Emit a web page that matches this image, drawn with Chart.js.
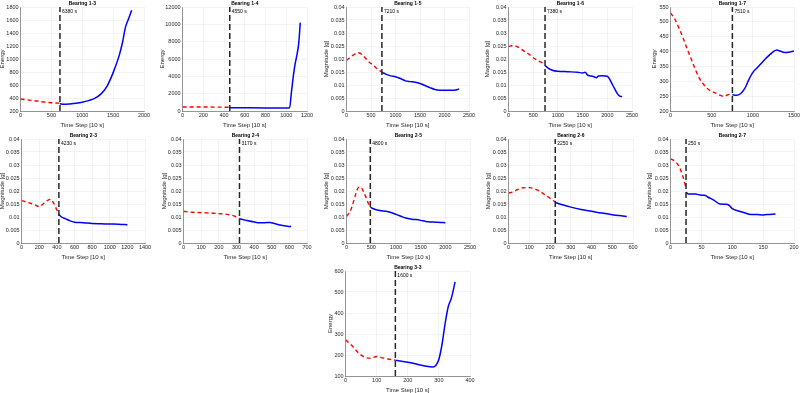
<!DOCTYPE html>
<html>
<head>
<meta charset="utf-8">
<script src="https://cdn.jsdelivr.net/npm/chart.js@4.4.1/dist/chart.umd.min.js"></script>
<style>
    html, body { margin: 0; padding: 0; background: #fff; }
    #fig { position: relative; width: 800px; height: 393px; overflow: hidden; }
    #fig canvas { position: absolute; }
</style>
</head>
<body>
<div id="fig"></div>
<script>
// ---- data (time step [10 s], red = before onset, blue = after onset) ----
var b13PreX  = [0, 100, 200, 300, 400, 500, 600, 638];
var b13PreY  = [385, 372, 360, 348, 336, 327, 321, 319];
var b13PostX = [638, 700, 800, 900, 1000, 1100, 1200, 1300, 1400, 1500, 1600, 1650, 1700, 1750, 1800];
var b13PostY = [310, 302, 308, 318, 335, 360, 395, 460, 580, 790, 1060, 1250, 1490, 1620, 1750];

var b14PreX  = [0, 100, 200, 300, 400, 455];
var b14PreY  = [470, 465, 460, 450, 440, 430];
var b14PostX = [455, 600, 800, 1000, 1032, 1050, 1070, 1085, 1100, 1120, 1135];
var b14PostY = [370, 365, 360, 360, 380, 2200, 4200, 5400, 6300, 7800, 10200];

var b15PreX  = [0, 100, 200, 250, 350, 450, 550, 650, 721];
var b15PreY  = [0.0195, 0.0210, 0.0222, 0.0224, 0.0210, 0.0190, 0.0175, 0.0158, 0.0150];
var b15PostX = [721, 800, 900, 1000, 1100, 1200, 1300, 1400, 1500, 1600, 1700, 1800, 1900, 2000, 2100, 2200, 2300];
var b15PostY = [0.0148, 0.0142, 0.0135, 0.0132, 0.0125, 0.0116, 0.0113, 0.0111, 0.0106, 0.0098, 0.0090, 0.0083, 0.0080, 0.0080, 0.0080, 0.0080, 0.0085];

var b16PreX  = [0, 100, 200, 300, 400, 500, 600, 738];
var b16PreY  = [0.0248, 0.0252, 0.0245, 0.0232, 0.0220, 0.0205, 0.0193, 0.0180];
var b16PostX = [738, 800, 900, 1000, 1200, 1400, 1500, 1550, 1600, 1650, 1700, 1780, 1820, 1900, 2000, 2050, 2100, 2150, 2200, 2250, 2300];
var b16PostY = [0.0175, 0.0165, 0.0156, 0.0153, 0.0151, 0.0149, 0.0146, 0.0149, 0.0138, 0.0135, 0.0134, 0.0128, 0.0135, 0.0136, 0.0134, 0.0122, 0.0103, 0.0085, 0.0068, 0.0057, 0.0055];

var b17PreX  = [0, 50, 100, 150, 200, 250, 300, 350, 400, 450, 500, 550, 600, 650, 700, 751];
var b17PreY  = [530, 510, 480, 447, 410, 375, 340, 310, 290, 275, 266, 260, 253, 249, 255, 258];
var b17PostX = [751, 800, 850, 900, 950, 1000, 1050, 1100, 1150, 1200, 1250, 1290, 1330, 1370, 1420, 1460, 1500];
var b17PostY = [255, 253, 258, 275, 305, 330, 345, 360, 375, 388, 400, 405, 402, 398, 397, 399, 402];

var b23PreX  = [0, 50, 100, 150, 200, 250, 300, 330, 360, 400, 423];
var b23PreY  = [0.0163, 0.0158, 0.0153, 0.0147, 0.0140, 0.0152, 0.0165, 0.0168, 0.0155, 0.0127, 0.0112];
var b23PostX = [423, 450, 500, 550, 600, 700, 800, 900, 1000, 1100, 1200];
var b23PostY = [0.0110, 0.0101, 0.0093, 0.0085, 0.0080, 0.0078, 0.0075, 0.0074, 0.0073, 0.0072, 0.0070];

var b24PreX  = [0, 50, 100, 150, 200, 250, 290, 317];
var b24PreY  = [0.0122, 0.0118, 0.0117, 0.0115, 0.0113, 0.0110, 0.0103, 0.0094];
var b24PostX = [317, 350, 400, 430, 460, 490, 510, 540, 570, 610];
var b24PostY = [0.0093, 0.0088, 0.0081, 0.0078, 0.0078, 0.0079, 0.0076, 0.0070, 0.0066, 0.0063];

var b25PreX  = [0, 50, 100, 150, 200, 250, 300, 350, 400, 450, 480];
var b25PreY  = [0.0103, 0.0115, 0.0135, 0.0165, 0.0198, 0.0215, 0.0212, 0.0195, 0.0172, 0.0148, 0.0140];
var b25PostX = [480, 600, 700, 800, 900, 1000, 1100, 1200, 1300, 1400, 1500, 1600, 1700, 1800, 1900, 2000];
var b25PostY = [0.0137, 0.0128, 0.0124, 0.0122, 0.0117, 0.0110, 0.0103, 0.0096, 0.0092, 0.0090, 0.0087, 0.0083, 0.0081, 0.0080, 0.0079, 0.0078];

var b26PreX  = [0, 20, 40, 60, 80, 100, 120, 140, 160, 180, 200, 225];
var b26PreY  = [0.0192, 0.0196, 0.0204, 0.0211, 0.0213, 0.0213, 0.0210, 0.0203, 0.0194, 0.0183, 0.0172, 0.0158];
var b26PostX = [225, 250, 300, 350, 400, 450, 500, 550, 570];
var b26PostY = [0.0156, 0.0149, 0.0138, 0.0129, 0.0122, 0.0115, 0.0109, 0.0104, 0.0102];

var b27PreX  = [0, 5, 10, 15, 20, 25];
var b27PreY  = [0.0323, 0.0318, 0.0307, 0.0288, 0.0255, 0.0212];
var b27PostX = [25, 30, 40, 50, 55, 60, 70, 80, 90, 95, 100, 110, 120, 130, 140, 150, 160, 170];
var b27PostY = [0.0195, 0.0188, 0.0188, 0.0184, 0.0184, 0.0177, 0.0165, 0.0150, 0.0149, 0.0145, 0.0132, 0.0123, 0.0116, 0.0110, 0.0110, 0.0108, 0.0110, 0.0112];

var b33PreX  = [0, 20, 40, 60, 80, 100, 120, 140, 160];
var b33PreY  = [272, 245, 212, 190, 185, 193, 186, 180, 175];
var b33PostX = [160, 180, 200, 220, 240, 260, 280, 290, 300, 310, 320, 330, 340, 352];
var b33PostY = [175, 170, 166, 160, 152, 146, 143, 150, 180, 250, 350, 430, 470, 548];

// onset step and its label
var onsetSteps  = [638, 455, 721, 738, 751, 423, 317, 480, 225, 25, 160];
var onsetLabels = ['6380 s', '4550 s', '7210 s', '7380 s', '7510 s', '4230 s', '3170 s', '4800 s', '2250 s', '250 s', '1600 s'];
var titles = ['Bearing 1-3', 'Bearing 1-4', 'Bearing 1-5', 'Bearing 1-6', 'Bearing 1-7',
              'Bearing 2-3', 'Bearing 2-4', 'Bearing 2-5', 'Bearing 2-6', 'Bearing 2-7', 'Bearing 3-3'];

// axis ranges [min, max, step]
var xRanges = [[0, 2000, 500], [0, 1200, 200], [0, 2500, 500], [0, 2500, 500], [0, 1500, 500],
               [0, 1400, 200], [0, 700, 100], [0, 2500, 500], [0, 600, 100], [0, 200, 50], [0, 400, 100]];
var yRanges = [[200, 1800, 200], [0, 12000, 2000], [0, 0.04, 0.005], [0, 0.04, 0.005], [200, 550, 50],
               [0, 0.04, 0.005], [0, 0.04, 0.005], [0, 0.04, 0.005], [0, 0.04, 0.005], [0, 0.04, 0.005], [100, 600, 100]];

var series = [
    [b13PreX, b13PreY, b13PostX, b13PostY], [b14PreX, b14PreY, b14PostX, b14PostY],
    [b15PreX, b15PreY, b15PostX, b15PostY], [b16PreX, b16PreY, b16PostX, b16PostY],
    [b17PreX, b17PreY, b17PostX, b17PostY], [b23PreX, b23PreY, b23PostX, b23PostY],
    [b24PreX, b24PreY, b24PostX, b24PostY], [b25PreX, b25PreY, b25PostX, b25PostY],
    [b26PreX, b26PreY, b26PostX, b26PostY], [b27PreX, b27PreY, b27PostX, b27PostY],
    [b33PreX, b33PreY, b33PostX, b33PostY]
];

// plot-area boxes on the page: left, top, width, height, y-title distance
var boxes = [
    [21, 7, 123, 104, 18], [183, 7, 124, 104, 20], [347, 7, 122, 104, 20], [509, 7, 123, 104, 21], [671, 7, 123, 104, 16],
    [22, 139, 123, 104, 19], [184, 139, 123, 104, 19], [347, 139, 123, 104, 20], [509, 139, 124, 104, 20], [671, 139, 123, 104, 21],
    [346, 271, 124, 105, 15]
];

var FONT = '"Liberation Sans", Arial, Helvetica, sans-serif';
Chart.defaults.font.family = FONT;
Chart.defaults.color = '#262626';

var panelText = {
    id: 'panelText',
    afterDraw: function (chart) {
        var o = chart.options.plugins.panelText;
        var ctx = chart.ctx, a = chart.chartArea;
        ctx.save();
        ctx.fillStyle = '#000';
        ctx.textBaseline = 'middle';
        ctx.textAlign = 'center';
        ctx.font = 'bold 5px ' + FONT;
        ctx.fillText(o.title, (a.left + a.right) / 2, a.top - 3.5);
        ctx.font = '5px ' + FONT;
        ctx.textAlign = 'left';
        var x = chart.scales.x.getPixelForValue(o.onset);
        ctx.fillText(o.label, x + 2, a.top + 5);
        ctx.restore();
    }
};

function pts(xs, ys) {
    return xs.map(function (x, i) { return { x: x, y: ys[i] }; });
}

function fmt(v) {
    return String(+v.toFixed(4));
}

var fig = document.getElementById('fig');
var PAD_TOP = 8, PAD_RIGHT = 9, X_H = 18;

titles.forEach(function (title, i) {
    var b = boxes[i];
    var yW = b[4] + 3.6;
    var canvas = document.createElement('canvas');
    var cw = Math.round(yW + b[2] + PAD_RIGHT);
    var ch = PAD_TOP + b[3] + X_H;
    canvas.width = cw;
    canvas.height = ch;
    canvas.style.left = (b[0] - yW) + 'px';
    canvas.style.top = (b[1] - PAD_TOP) + 'px';
    fig.appendChild(canvas);

    var s = series[i], xr = xRanges[i], yr = yRanges[i];
    var isEnergy = yr[1] > 1;

    new Chart(canvas.getContext('2d'), {
        type: 'line',
        data: {
            datasets: [{
                data: [{ x: onsetSteps[i], y: yr[0] }, { x: onsetSteps[i], y: yr[1] }],
                borderColor: '#262626',
                borderWidth: 1.5,
                borderDash: [6, 3],
                pointRadius: 0,
                order: 0
            }, {
                data: pts(s[0], s[1]),
                borderColor: '#ff0000',
                borderWidth: 1.4,
                borderDash: [4, 3],
                pointRadius: 0,
                cubicInterpolationMode: 'monotone',
                order: 2
            }, {
                data: pts(s[2], s[3]),
                borderColor: '#0000ff',
                borderWidth: 1.5,
                pointRadius: 0,
                cubicInterpolationMode: 'monotone',
                order: 1
            }]
        },
        options: {
            responsive: false,
            animation: false,
            events: [],
            layout: { padding: { top: PAD_TOP, right: PAD_RIGHT, left: 0, bottom: 0 } },
            plugins: {
                legend: { display: false },
                tooltip: { enabled: false },
                panelText: { title: title, onset: onsetSteps[i], label: onsetLabels[i] }
            },
            scales: {
                x: {
                    type: 'linear',
                    min: xr[0], max: xr[1],
                    afterFit: function (sc) { sc.height = X_H; },
                    ticks: { stepSize: xr[2], autoSkip: false, maxRotation: 0, padding: 1,
                             font: { size: 5.5 }, callback: fmt },
                    grid: { color: '#ebebeb', lineWidth: 0.6, drawTicks: false },
                    border: { color: '#555', width: 0.6 },
                    title: { display: true, text: 'Time Step [10 s]', font: { size: 6 }, padding: 0 }
                },
                y: {
                    min: yr[0], max: yr[1],
                    afterFit: function (sc) { sc.width = yW; },
                    ticks: { stepSize: yr[2], autoSkip: false, padding: 2,
                             font: { size: 5.5 }, callback: fmt },
                    grid: { color: '#ebebeb', lineWidth: 0.6, drawTicks: false },
                    border: { color: '#555', width: 0.6 },
                    title: { display: true, text: isEnergy ? 'Energy' : 'Magnitude [g]',
                             font: { size: 6 }, padding: 0 }
                }
            }
        },
        plugins: [panelText]
    });
});
</script>
</body>
</html>
